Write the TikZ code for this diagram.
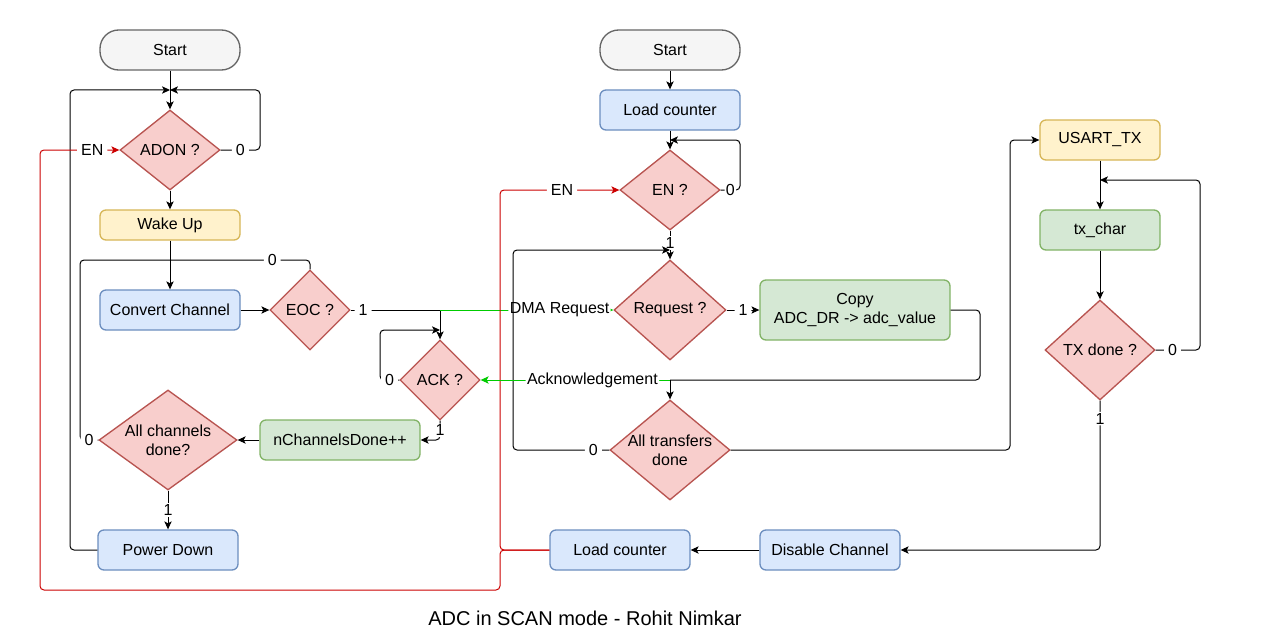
\documentclass[tikz,border=0pt]{standalone}
\usepackage{fontspec}
\setmainfont{Liberation Sans}
\usetikzlibrary{shapes.geometric,arrows.meta}
\definecolor{termfill}{HTML}{F5F5F5}\definecolor{termline}{HTML}{666666}
\definecolor{bluefill}{HTML}{DAE8FC}\definecolor{blueline}{HTML}{6C8EBF}
\definecolor{yelfill}{HTML}{FFF2CC}\definecolor{yelline}{HTML}{D6B656}
\definecolor{grnfill}{HTML}{D5E8D4}\definecolor{grnline}{HTML}{82B366}
\definecolor{redfill}{HTML}{F8CECC}\definecolor{redline}{HTML}{B85450}
\definecolor{enred}{HTML}{CC0000}\definecolor{ackgreen}{HTML}{00CC00}
\tikzset{
  base/.style={draw, line width=1pt, font=\fontsize{12}{14}\selectfont, align=center, inner sep=2pt},
  term/.style={base, fill=termfill, draw=termline, rounded corners=14pt, minimum width=105pt, minimum height=30pt},
  bluebox/.style={base, fill=bluefill, draw=blueline, rounded corners=4.5pt, minimum width=105pt, minimum height=30pt},
  yelbox/.style={base, fill=yelfill, draw=yelline, rounded corners=4.5pt, minimum width=105pt, minimum height=30pt},
  grnbox/.style={base, fill=grnfill, draw=grnline, rounded corners=4.5pt, minimum width=105pt, minimum height=30pt},
  dia/.style={draw=redline, fill=redfill, line width=1pt, diamond, inner sep=0pt, shape aspect=1},
  dtext/.style={font=\fontsize{12}{14}\selectfont, align=center},
  arr/.style={line width=0.75pt, rounded corners=3pt, -{Stealth[length=6pt,width=5.5pt,inset=1.5pt]}},
  ln/.style={line width=0.75pt, rounded corners=3pt},
  lbl/.style={fill=white, inner xsep=3pt, inner ysep=1pt, font=\fontsize{12}{14}\selectfont},
}
\begin{document}
\begin{tikzpicture}[x=0.75pt,y=-0.75pt]
\path[fill=white] (0,0) rectangle (1281,642);
% ---------- left column
\node[term] (start1) at (170,50) {Start};
\node[dia, minimum width=75pt, minimum height=60pt] (adon) at (170,150) {};
\node[dtext] at (adon) {ADON ?};
\node[yelbox, minimum height=22.5pt] (wake) at (170,225) {Wake Up};
\node[bluebox] (conv) at (170,310) {Convert Channel};
\node[dia, minimum width=60pt, minimum height=60pt] (eoc) at (310,310) {};
\node[dtext] at (eoc) {EOC ?};
\node[dia, minimum width=60pt, minimum height=60pt] (ack) at (440,380) {};
\node[dtext] at (ack) {ACK ?};
\node[grnbox, minimum width=120pt] (nch) at (340,440) {nChannelsDone++};
\node[dia, minimum width=103.5pt, minimum height=75pt] (acd) at (168,440) {};
\node[dtext] at (acd) {All channels\\done?};
\node[bluebox] (pd) at (168,550) {Power Down};
% ---------- middle column
\node[term] (start2) at (670,50) {Start};
\node[bluebox] (lc1) at (670,110) {Load counter};
\node[dia, minimum width=75pt, minimum height=60pt] (en) at (670,190) {};
\node[dtext] at (en) {EN ?};
\node[dia, minimum width=84pt, minimum height=75pt] (req) at (670,310) {};
\node[dtext] at (req) {Request ?};
\node[grnbox, minimum width=142.5pt, minimum height=45pt] (copy) at (855,310) {Copy\\ADC\_DR -> adc\_value};
\node[dia, minimum width=90pt, minimum height=75pt] (atd) at (670,450) {};
\node[dtext] at (atd) {All transfers\\done};
\node[bluebox] (lc2) at (620,550) {Load counter};
\node[bluebox] (dis) at (830,550) {Disable Channel};
% ---------- right column
\node[yelbox, minimum width=90pt] (usart) at (1100,140) {USART\_TX};
\node[grnbox, minimum width=90pt] (tx) at (1100,230) {tx\_char};
\node[dia, minimum width=82.5pt, minimum height=75pt] (txd) at (1100,350) {};
\node[dtext] at (txd) {TX done ?};
% ---------- caption
\node[font=\fontsize{15}{18}\selectfont] (cap) at (585,618) {ADC in SCAN mode - Rohit Nimkar};
% ---------- coordinates
\coordinate (j1) at (170,90);
\coordinate (j2) at (170,260);
\coordinate (j3) at (440,310);
\coordinate (j4) at (670,380);
\coordinate (j5) at (670,140);
\coordinate (j6) at (670,250);
\coordinate (j7) at (1100,180);
\coordinate (j8) at (440,330);
% ---------- left connectors
\draw[arr] (start1) -- (adon);
\draw[arr] (pd.west) -- (70,550) -- (70,90) -- (j1);
\draw[arr] (adon.east) -- node[lbl]{0} (260,150) -- (260,90) -- (j1);
\draw[arr] (adon) -- (wake);
\draw[arr] (wake) -- (conv);
\draw[ln] (eoc.north) -- (310,260) -- node[lbl, pos=0.27]{0} (j2);
\draw[ln] (acd.west) -- node[lbl]{0} (80,440) -- (80,260) -- (j2);
\draw[arr] (conv) -- (eoc);
\draw[ln] (eoc.east) -- node[lbl, pos=0.14]{1} (j3);
\draw[arr] (j3) -- (ack.north);
\draw[arr, ackgreen] (j3) -- node[lbl, text=black, pos=0.69, inner xsep=1pt]{DMA Request} (req.west);
\draw[arr] (ack.west) -- node[lbl]{0} (380,380) -- (380,330) -- (j8);
\draw[arr] (ack.south) -- node[lbl]{1} (440,440) -- (nch.east);
\draw[arr] (nch) -- (acd);
\draw[arr] (acd) -- node[lbl]{1} (pd);
% ---------- red EN lines
\draw[arr, enred] (lc2.west) -- (500,550) -- (500,590) -- (40,590) -- (40,150) -- node[lbl, text=black, pos=0.66]{EN} (adon.west);
\draw[arr, enred] (lc2.west) -- (500,550) -- (500,190) -- node[lbl, text=black, pos=0.52]{EN} (en.west);
% ---------- middle connectors
\draw[arr] (start2) -- (lc1);
\draw[arr] (lc1) -- (en);
\draw[arr] (en.east) -- node[lbl, inner xsep=1pt]{0} (740,190) -- (740,140) -- (j5);
\draw[arr] (en) -- node[lbl, pos=0.43]{1} (req);
\draw[arr] (atd.west) -- node[lbl, pos=0.165]{0} (513,450) -- (513,250) -- (j6);
\draw[arr] (req) -- node[lbl]{1} (copy);
\draw[ln] (copy.east) -- (980,310) -- (980,380) -- (j4);
\draw[arr] (j4) -- (atd.north);
\draw[arr, ackgreen] (j4) -- node[lbl, text=black, pos=0.41, inner xsep=1pt]{Acknowledgement} (ack.east);
\draw[arr] (atd.east) -- (1010,450) -- (1010,140) -- (usart.west);
% ---------- right connectors
\draw[arr] (usart) -- (tx);
\draw[arr] (txd.east) -- node[lbl, pos=0.38]{0} (1200,350) -- (1200,180) -- (j7);
\draw[arr] (tx) -- (txd);
\draw[arr] (txd.south) -- node[lbl, pos=0.12]{1} (1100,550) -- (dis.east);
\draw[arr] (dis) -- (lc2);
\end{tikzpicture}
\end{document}
